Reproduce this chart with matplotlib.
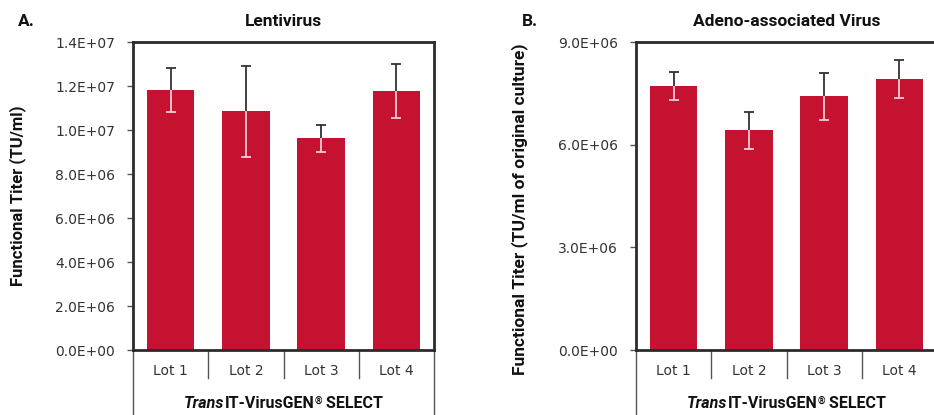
import matplotlib
matplotlib.use("Agg")
import matplotlib.pyplot as plt
from matplotlib import font_manager
from matplotlib.offsetbox import TextArea, HPacker, AnchoredOffsetbox
from matplotlib.ticker import FuncFormatter
import matplotlib.transforms as mtransforms

# ---- data ----
lots = ["Lot 1", "Lot 2", "Lot 3", "Lot 4"]
lenti_titer = [1.18e7, 1.085e7, 9.62e6, 1.176e7]
lenti_err = [1.0e6, 2.07e6, 0.62e6, 1.23e6]
aav_titer = [7.71e6, 6.42e6, 7.41e6, 7.91e6]
aav_err = [0.40e6, 0.54e6, 0.68e6, 0.56e6]
lenti_ticks = [0, 2e6, 4e6, 6e6, 8e6, 1.0e7, 1.2e7, 1.4e7]
aav_ticks = [0, 3e6, 6e6, 9e6]
group_label = ("Trans", "IT-VirusGEN", "\u00ae", " SELECT")

names = {f.name for f in font_manager.fontManager.ttflist}
BOLD = "Roboto" if "Roboto" in names else "DejaVu Sans"
LIGHT = "DejaVu Sans"

BAR = "#C41230"
DARK = "#2b2b2b"
GRID = "#555555"
TXT = "#111111"

W, H = 934, 415
fig = plt.figure(figsize=(W / 100, H / 100), dpi=100)

def px_axes(left, top, right, bottom):
    return fig.add_axes([left / W, 1 - bottom / H, (right - left) / W, (bottom - top) / H])

def panel(ax, values, errs, ticks, ymax, title, letter, letter_x, ylabel, ylabel_xy):
    x = list(range(len(values)))
    ax.bar(x, values, width=0.63, color=BAR, zorder=2)
    hi = [v + e for v, e in zip(values, errs)]
    lo = [v - e for v, e in zip(values, errs)]
    ax.vlines(x, values, hi, color="#333333", lw=1.3, zorder=3)
    ax.plot(x, hi, ls="none", marker="_", ms=7, mew=1.3, color="#333333", zorder=3)
    ax.vlines(x, lo, values, color="#f4cdd4", lw=1.3, zorder=3)
    ax.plot(x, lo, ls="none", marker="_", ms=7, mew=1.3, color="#f4cdd4", zorder=3)
    ax.set_xlim(-0.5, len(values) - 0.5)
    ax.set_ylim(0, ymax)
    ax.set_yticks(ticks)
    ax.yaxis.set_major_formatter(FuncFormatter(lambda v, p: "%.1E" % v))
    ax.tick_params(axis="y", direction="out", length=4, width=1, color=GRID, pad=9,
                   labelsize=10, labelcolor="#333333")
    ax.set_xticks(x)
    ax.set_xticklabels(lots, fontsize=10, color="#333333", family=LIGHT)
    ax.tick_params(axis="x", length=0, pad=10)
    for s in ax.spines.values():
        s.set_linewidth(2)
        s.set_color(DARK)
    blend = mtransforms.blended_transform_factory(ax.transData, ax.transAxes)
    h_ax = ax.get_position().height * H
    for xs in [0.5 + i for i in range(len(values) - 1)]:
        ax.plot([xs, xs], [0, -28 / h_ax], transform=blend, color=GRID, lw=1, clip_on=False)
    for xs in [0, 1]:
        ax.plot([xs, xs], [0, -80 / h_ax], transform=ax.transAxes, color=GRID, lw=1, clip_on=False)
    fs = 11.5
    parts = [TextArea(group_label[0], textprops=dict(fontsize=fs, fontweight="bold", fontstyle="italic", family=BOLD, color=TXT)),
             TextArea(group_label[1], textprops=dict(fontsize=fs, fontweight="bold", family=BOLD, color=TXT)),
             TextArea(group_label[2], textprops=dict(fontsize=7, fontweight="bold", family=BOLD, color=TXT)),
             TextArea(group_label[3], textprops=dict(fontsize=fs, fontweight="bold", family=BOLD, color=TXT))]
    box = HPacker(children=parts, align="top", pad=0, sep=0)
    anch = AnchoredOffsetbox(loc="center", child=box, pad=0, frameon=False,
                             bbox_to_anchor=(0.5, -53 / h_ax), bbox_transform=ax.transAxes,
                             borderpad=0)
    ax.add_artist(anch)
    ax.text(0.5, 1 + 20 / h_ax, title, transform=ax.transAxes, ha="center", va="center",
            fontsize=12.5, fontweight="bold", family=BOLD, color=TXT)
    fig.text(letter_x / W, 1 - 21 / H, letter, ha="left", va="center", fontsize=12.5,
             fontweight="bold", family=BOLD, color=TXT)
    fig.text(ylabel_xy[0] / W, 1 - ylabel_xy[1] / H, ylabel, rotation=90, ha="center", va="center",
             fontsize=ylabel_xy[2], fontweight="bold", family=BOLD, color=TXT)

axA = px_axes(133, 42, 434, 350)
panel(axA, lenti_titer, lenti_err, lenti_ticks, 1.4e7, "Lentivirus", "A.", 18,
      "Functional Titer (TU/ml)", (18, 196, 12))

axB = px_axes(636, 42, 937, 350)
panel(axB, aav_titer, aav_err, aav_ticks, 9e6, "Adeno-associated Virus", "B.", 522,
      "Functional Titer (TU/ml of original culture)", (520, 209, 12.5))

fig.savefig("out.png", dpi=100)
